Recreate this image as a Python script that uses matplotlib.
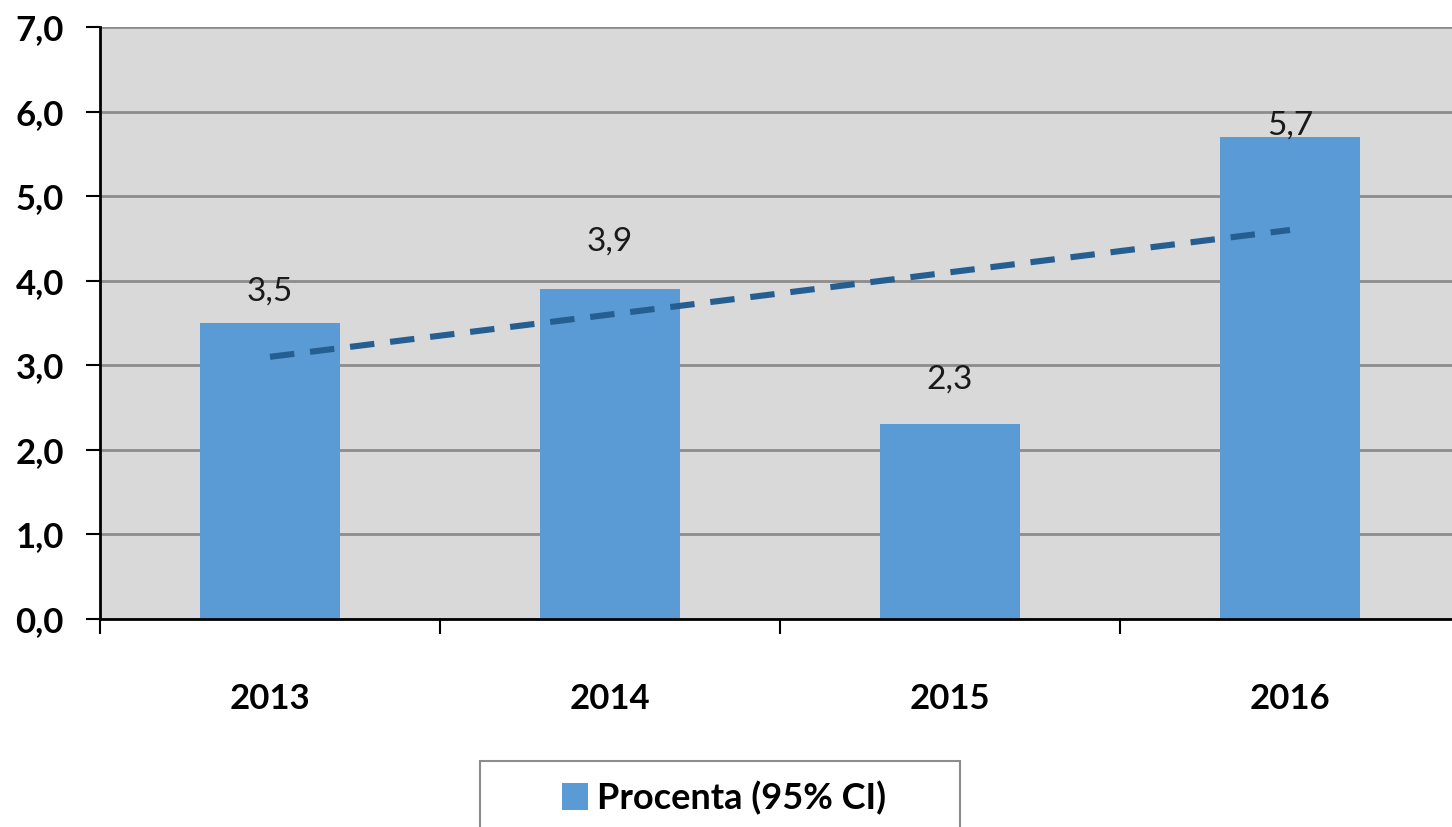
import numpy as np
import matplotlib.pyplot as plt
from matplotlib.patches import Rectangle
from matplotlib.ticker import FixedLocator, FuncFormatter

years = ["2013", "2014", "2015", "2016"]
values = [3.5, 3.9, 2.3, 5.7]
series_name = "Procenta (95% CI)"

# label lift above each bar (data units), as placed in the original
label_lift = [0.37, 0.56, 0.53, 0.14]

plt.rcParams['font.family'] = ['Lato', 'DejaVu Sans']

fig = plt.figure(figsize=(14.52, 8.27), dpi=100)
ax = fig.add_axes([100 / 1452, 1 - 619 / 827, 1360 / 1452, 592 / 827])

x = np.arange(len(years))
ax.set_facecolor('#D9D9D9')
ax.bar(x, values, width=0.41, color='#5B9BD5', zorder=3, label=series_name)

# linear trend line
k, b = np.polyfit(x, values, 1)
ax.plot(x[[0, -1]], k * x[[0, -1]] + b, ls=(0, (4, 2.6)), lw=4.4,
        color='#255E91', zorder=4)

for xi, v, d in zip(x, values, label_lift):
    ax.text(xi, v + d, f"{v:.1f}".replace('.', ','), ha='center', va='center',
            fontsize=24, color='#1a1a1a', zorder=5)

ax.set_ylim(0, 7)
ax.set_xlim(-0.5, len(years) - 0.5)
ax.set_yticks(np.arange(0, 8, 1))
ax.yaxis.set_major_formatter(FuncFormatter(lambda v, p: f"{v:.1f}".replace('.', ',')))
ax.yaxis.grid(True, color='#8C8C8C', lw=2, zorder=1)

ax.set_xticks(x)
ax.set_xticklabels(years)
ax.xaxis.set_minor_locator(FixedLocator(np.arange(-0.5, len(years), 1)))
ax.tick_params(axis='x', which='major', length=0, pad=46)
ax.tick_params(axis='x', which='minor', length=11, width=1.5, direction='out')
ax.tick_params(axis='y', length=10, width=1.5, pad=16)

for lbl in ax.get_xticklabels() + ax.get_yticklabels():
    lbl.set_fontsize(25)
    lbl.set_fontweight('bold')

for s in ['top', 'right']:
    ax.spines[s].set_visible(False)
for s in ['left', 'bottom']:
    ax.spines[s].set_linewidth(2)
    ax.spines[s].set_color('black')
    ax.spines[s].set_zorder(6)

# legend box (runs off the bottom of the picture)
fig.add_artist(Rectangle((480 / 1452, -0.02), 480 / 1452, 1 - 761 / 827 + 0.02,
                         transform=fig.transFigure, facecolor='white',
                         edgecolor='#8C8C8C', lw=1.5))
fig.legend(loc='center', bbox_to_anchor=(724 / 1452, 1 - 798 / 827), frameon=False,
           prop={'size': 26, 'weight': 'bold'}, handlelength=0.7, handleheight=0.75,
           handletextpad=0.25)

fig.savefig('out.png', dpi=100)
